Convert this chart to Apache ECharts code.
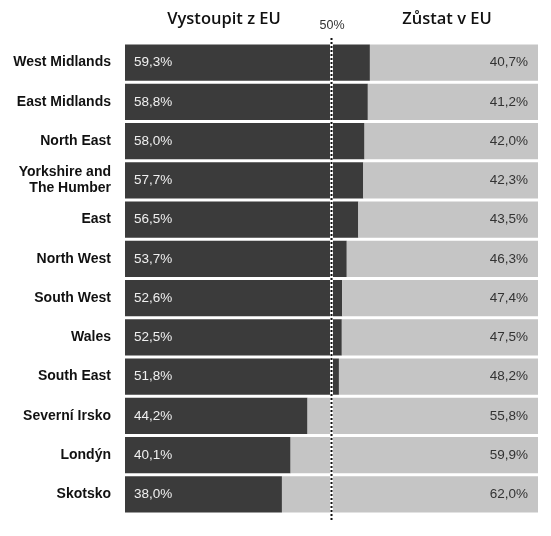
<!DOCTYPE html>
<html>
<head>
<meta charset="utf-8">
<script src="https://cdn.jsdelivr.net/npm/echarts@6/dist/echarts.min.js"></script>
<style>
  html, body { margin: 0; padding: 0; background: #fff; }
  #chart { width: 551px; height: 536px; }
</style>
</head>
<body>
<div id="chart"></div>
<script>
// regiony odshora dolů
var regions = ['West Midlands', 'East Midlands', 'North East', 'Yorkshire and\nThe Humber', 'East',
    'North West', 'South West', 'Wales', 'South East', 'Severní Irsko', 'Londýn', 'Skotsko'];
var leave = [59.3, 58.8, 58.0, 57.7, 56.5, 53.7, 52.6, 52.5, 51.8, 44.2, 40.1, 38.0];
var remain = [40.7, 41.2, 42.0, 42.3, 43.5, 46.3, 47.4, 47.5, 48.2, 55.8, 59.9, 62.0];
var headers = ['Vystoupit z EU', 'Zůstat v EU'];
var midLine = 50;

var fmt = function (p) {
    return p.value.toFixed(1).replace('.', ',') + '%';
};

var headStyle = function (txt, x) {
    return {
        type: 'text',
        style: {
            text: txt, x: x, y: 19,
            textAlign: 'center', textVerticalAlign: 'middle',
            fontFamily: 'Open Sans', fontWeight: 600, fontSize: 16.5, fill: '#111'
        }
    };
};

var myChart = echarts.init(document.getElementById('chart'));

var options = {
    backgroundColor: '#fff',
    animation: false,
    graphic: [
        headStyle(headers[0], 224),
        headStyle(headers[1], 447),
        {
            type: 'text',
            style: {
                text: midLine + '%', x: 332, y: 25.5,
                textAlign: 'center', textVerticalAlign: 'middle',
                fontFamily: 'Liberation Sans', fontSize: 12.5, fill: '#333'
            }
        }
    ],
    grid: [
        { left: 125, right: 13, top: 43, bottom: 22 },
        { left: 125, right: 13, top: 36, bottom: 16 }
    ],
    xAxis: [
        { type: 'value', min: 0, max: 100, show: false, gridIndex: 0 },
        { type: 'value', min: 0, max: 100, show: false, gridIndex: 1 }
    ],
    yAxis: [
        {
            type: 'category',
            gridIndex: 0,
            data: regions,
            inverse: true,
            axisLine: { show: false },
            axisTick: { show: false },
            axisLabel: {
                margin: 14,
                fontFamily: 'Liberation Sans',
                fontWeight: 'bold',
                fontSize: 14,
                lineHeight: 16,
                color: '#111',
                align: 'right'
            }
        },
        { type: 'value', min: 0, max: 1, show: false, gridIndex: 1 }
    ],
    series: [
        {
            name: headers[0],
            type: 'bar',
            stack: 'all',
            data: leave,
            barCategoryGap: '8%',
            itemStyle: { color: '#3b3b3b' },
            label: {
                show: true,
                position: 'insideLeft',
                distance: 9,
                formatter: fmt,
                fontFamily: 'Liberation Sans',
                fontSize: 13.5,
                color: '#f0f0f0'
            }
        },
        {
            name: headers[1],
            type: 'bar',
            stack: 'all',
            data: remain,
            barCategoryGap: '8%',
            itemStyle: { color: '#c5c5c5' },
            label: {
                show: true,
                position: 'insideRight',
                distance: 10,
                formatter: fmt,
                fontFamily: 'Liberation Sans',
                fontSize: 13.5,
                color: '#333'
            }
        },
        // 50% čára: bílý podklad + tečky
        {
            type: 'line',
            xAxisIndex: 1,
            yAxisIndex: 1,
            data: [[midLine, 0], [midLine, 1]],
            symbol: 'none',
            silent: true,
            z: 5,
            lineStyle: { color: '#fff', width: 3, type: 'solid' }
        },
        {
            type: 'line',
            xAxisIndex: 1,
            yAxisIndex: 1,
            data: [[midLine, 0], [midLine, 1]],
            symbol: 'none',
            silent: true,
            z: 6,
            lineStyle: { color: '#111', width: 2, type: [2, 2] }
        }
    ]
};

myChart.setOption(options);
</script>
</body>
</html>
